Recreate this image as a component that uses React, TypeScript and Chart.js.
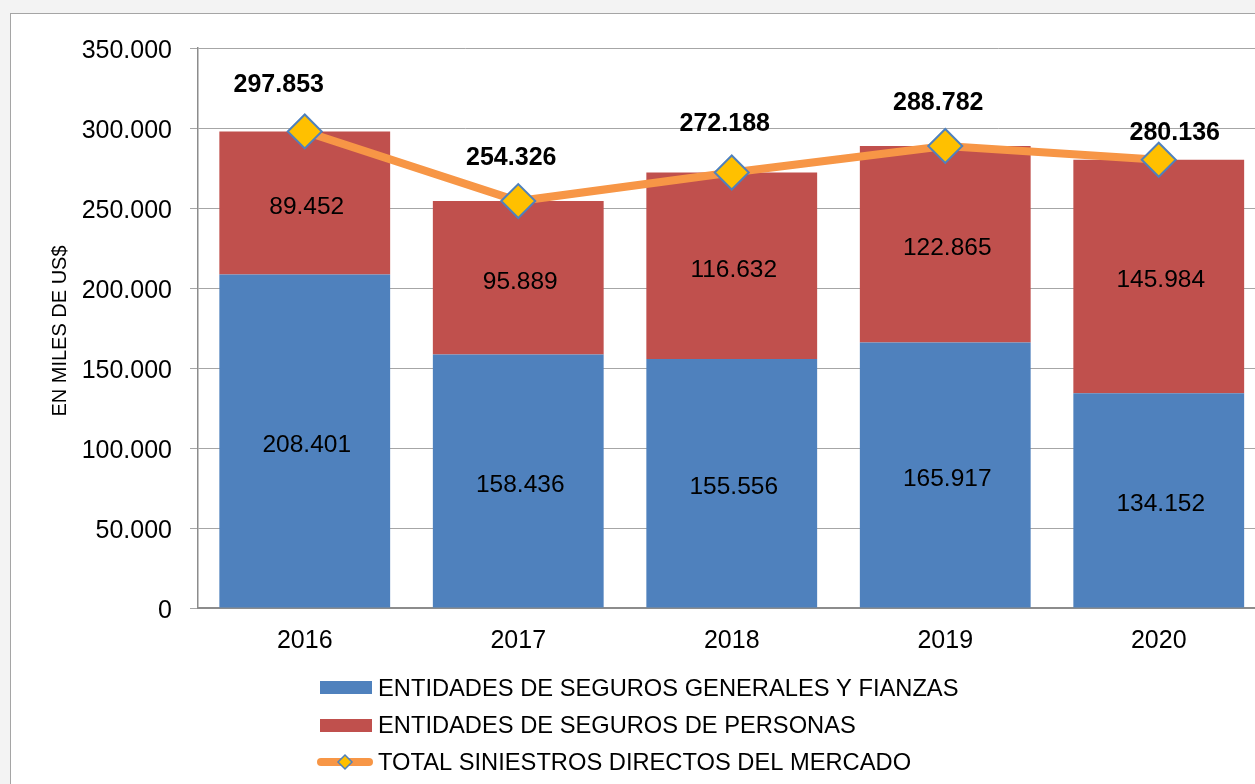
import React, { useEffect, useRef } from "react";
import { Chart, registerables } from "chart.js";

Chart.register(...registerables);

const categories = ["2016", "2017", "2018", "2019", "2020"];
const generales = [208401, 158436, 155556, 165917, 134152];
const personas = [89452, 95889, 116632, 122865, 145984];
const totales = [297853, 254326, 272188, 288782, 280136];
const seriesNames = [
  "ENTIDADES DE SEGUROS GENERALES Y FIANZAS",
  "ENTIDADES DE SEGUROS DE PERSONAS",
  "TOTAL SINIESTROS DIRECTOS DEL MERCADO",
];
const axisTitle = "EN MILES DE US$";
const yMin = 0;
const yMax = 350000;
const yStep = 50000;

const BLUE = "#4F81BD";
const RED = "#C0504D";
const ORANGE = "#F79646";
const YELLOW = "#FFC000";
const FONT = "'Liberation Sans', Arial, sans-serif";

// label offsets for the total labels (style only)
const totalDx = [-26, -7, -7, -7, 16];
const totalDy = [-46, -43, -48, -43, -27];

const fmt = (v: number) =>
  Math.round(v)
    .toString()
    .replace(/\B(?=(\d{3})+(?!\d))/g, ".");

const labelPlugin = {
  id: "valueLabels",
  afterDatasetsDraw(chart: any) {
    const ctx = chart.ctx;
    ctx.save();
    ctx.fillStyle = "#000";
    ctx.textAlign = "center";
    ctx.textBaseline = "middle";
    ctx.font = `24.5px ${FONT}`;
    const stacks: [number, number[]][] = [
      [1, generales],
      [2, personas],
    ];
    stacks.forEach(([di, vals]) => {
      const meta = chart.getDatasetMeta(di);
      meta.data.forEach((bar: any, i: number) => {
        const p = bar.getProps(["x", "y", "base"], true);
        ctx.fillText(fmt(vals[i]), p.x + 2, (p.y + p.base) / 2 + 4);
      });
    });
    ctx.font = `bold 25px ${FONT}`;
    const lm = chart.getDatasetMeta(0);
    lm.data.forEach((pt: any, i: number) => {
      ctx.fillText(fmt(totales[i]), pt.x + totalDx[i], pt.y + totalDy[i]);
    });
    ctx.restore();
  },
  afterDraw(chart: any) {
    const ctx = chart.ctx;
    ctx.save();
    // y axis title
    ctx.translate(60, 331);
    ctx.rotate(-Math.PI / 2);
    ctx.fillStyle = "#000";
    ctx.font = `20px ${FONT}`;
    ctx.textAlign = "center";
    ctx.textBaseline = "middle";
    ctx.fillText(axisTitle, 0, 0);
    ctx.restore();

    // legend
    ctx.save();
    ctx.font = `23.7px ${FONT}`;
    ctx.textAlign = "left";
    ctx.textBaseline = "middle";
    const rows = [688, 725, 762];
    ctx.fillStyle = BLUE;
    ctx.fillRect(320, 681, 52, 13);
    ctx.fillStyle = RED;
    ctx.fillRect(320, 719, 52, 13);
    ctx.strokeStyle = ORANGE;
    ctx.lineWidth = 8;
    ctx.lineCap = "round";
    ctx.beginPath();
    ctx.moveTo(321, 762);
    ctx.lineTo(369, 762);
    ctx.stroke();
    ctx.beginPath();
    ctx.moveTo(345 - 7, 762);
    ctx.lineTo(345, 755);
    ctx.lineTo(345 + 7, 762);
    ctx.lineTo(345, 769);
    ctx.closePath();
    ctx.fillStyle = YELLOW;
    ctx.fill();
    ctx.lineWidth = 1.5;
    ctx.strokeStyle = BLUE;
    ctx.stroke();
    ctx.fillStyle = "#000";
    seriesNames.forEach((name, i) => {
      ctx.fillText(name, 378, rows[i] + 1);
    });
    ctx.restore();
  },
};

export default function App() {
  const ref = useRef<HTMLCanvasElement | null>(null);

  useEffect(() => {
    if (!ref.current) return;
    const chart = new Chart(ref.current, {
      type: "bar",
      data: {
        labels: categories,
        datasets: [
          {
            type: "line",
            label: seriesNames[2],
            data: totales,
            borderColor: ORANGE,
            borderWidth: 8,
            pointStyle: "rectRot",
            pointRadius: 17,
            pointBackgroundColor: YELLOW,
            pointBorderColor: BLUE,
            pointBorderWidth: 2,
            tension: 0,
            order: 0,
            stack: "total",
          } as any,
          {
            label: seriesNames[0],
            data: generales,
            backgroundColor: BLUE,
            stack: "s",
            order: 1,
            barPercentage: 0.8,
            categoryPercentage: 1,
          },
          {
            label: seriesNames[1],
            data: personas,
            backgroundColor: RED,
            stack: "s",
            order: 1,
            barPercentage: 0.8,
            categoryPercentage: 1,
          },
        ],
      },
      options: {
        responsive: false,
        animation: false,
        devicePixelRatio: 1,
        layout: { padding: { top: 48, right: 24.5, bottom: 0, left: 0 } },
        plugins: {
          legend: { display: false },
          tooltip: { enabled: false },
        },
        scales: {
          x: {
            stacked: true,
            grid: { display: false, drawTicks: false },
            border: { display: true, color: "#8c8c8c", width: 2 },
            ticks: {
              color: "#000",
              font: { family: FONT, size: 25 },
              padding: 18,
            },
            afterFit(scale: any) {
              scale.height = 176;
            },
          },
          y: {
            stacked: true,
            min: yMin,
            max: yMax,
            grid: { color: "#a6a6a6", lineWidth: 1, tickLength: 8 },
            border: { display: true, color: "#8c8c8c", width: 1.5 },
            ticks: {
              stepSize: yStep,
              color: "#000",
              font: { family: FONT, size: 25 },
              padding: 18,
              labelOffset: 3,
              callback: (v: any) => fmt(Number(v)),
            },
            afterFit(scale: any) {
              scale.width = 198;
            },
          },
        },
      },
      plugins: [labelPlugin],
    });
    return () => chart.destroy();
  }, []);

  return (
    <div
      style={{
        position: "fixed",
        left: 0,
        top: 0,
        width: 1255,
        height: 784,
        overflow: "hidden",
        background: "#f3f3f3",
      }}
    >
      <div
        style={{
          position: "absolute",
          left: 10,
          top: 13,
          width: 1300,
          height: 800,
          border: "1px solid #a5a5a5",
          background: "#fff",
        }}
      />
      <canvas
        ref={ref}
        width={1290}
        height={784}
        style={{ position: "absolute", left: 0, top: 0, width: 1290, height: 784 }}
      />
    </div>
  );
}
